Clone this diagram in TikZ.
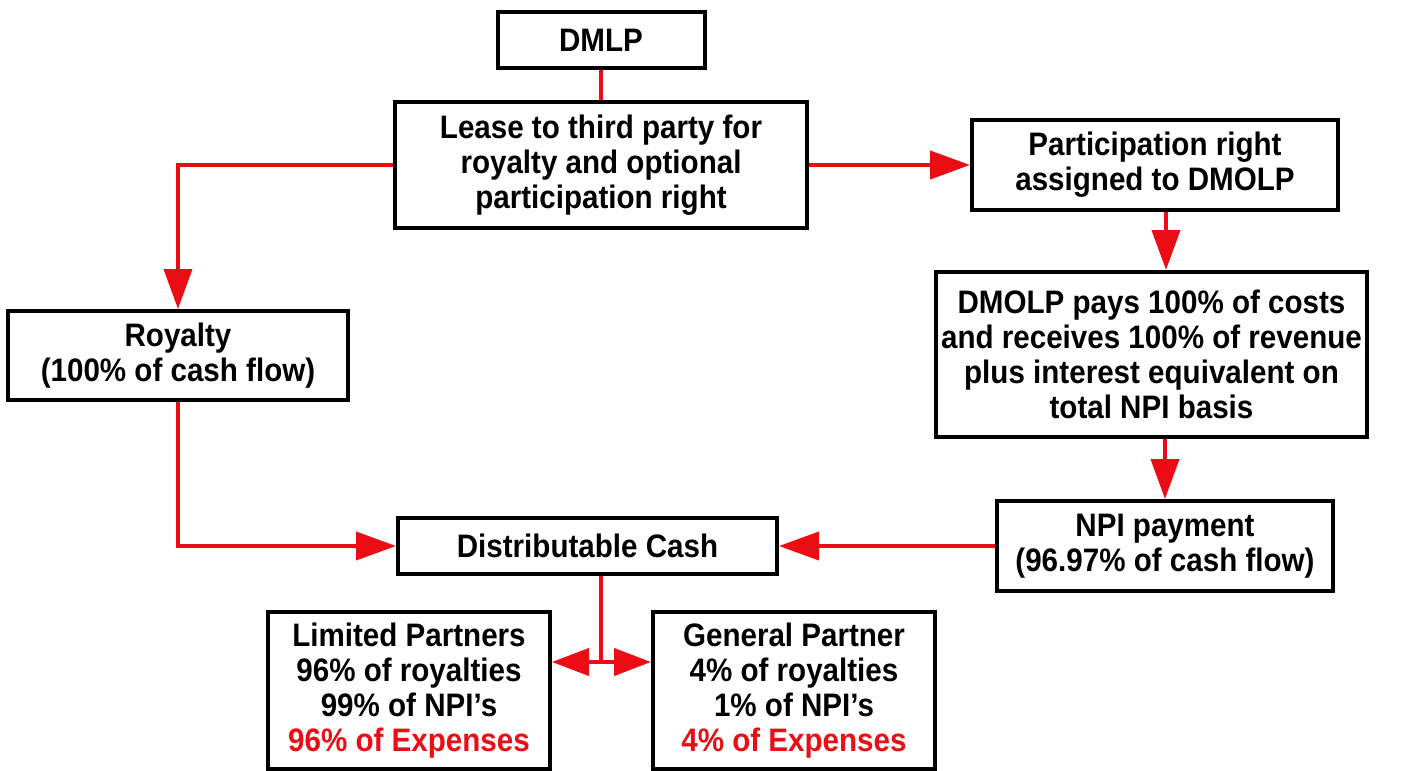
\documentclass[tikz,border=0pt]{standalone}
\usepackage{fontspec}
\setmainfont{Liberation Sans}[FakeStretch=0.91]
\usetikzlibrary{arrows.meta}
\definecolor{flowred}{RGB}{236,12,20}
\begin{document}
\begin{tikzpicture}[x=1pt,y=-1pt,
  box/.style={draw=black,line width=4pt,fill=white,align=center,
    font=\fontsize{32.5}{35}\selectfont\bfseries,inner sep=0pt},
  flow/.style={draw=flowred,line width=4pt},
  arr/.style={flow,-{Triangle[length=40pt,width=28pt]}},
  sarr/.style={flow,-{Triangle[length=37pt,width=27pt]}}]
\useasboundingbox (0,0) rectangle (1406,771);
\fill[white] (0,0) rectangle (1406,771);

\node[box,minimum width=207pt,minimum height=56pt] (dmlp) at (601,40) {DMLP};
\node[box,minimum width=412pt,minimum height=126pt] (lease) at (601,165)
  {Lease to third party for\\royalty and optional\\participation right};
\node[box,minimum width=366pt,minimum height=90pt] (part) at (1155,165)
  {Participation right\\assigned to DMOLP};
\node[box,minimum width=431pt,minimum height=165pt] (dmolp) at (1151.5,354.5)
  {DMOLP pays 100\% of costs\\and receives 100\% of revenue\\plus interest equivalent on\\total NPI basis};
\node[box,minimum width=336pt,minimum height=90pt] (npi) at (1165,546)
  {NPI payment\\(96.97\% of cash flow)};
\node[box,minimum width=379pt,minimum height=56pt] (dist) at (587.5,546)
  {Distributable Cash};
\node[box,minimum width=340pt,minimum height=89pt] (roy) at (178,355.5)
  {Royalty\\(100\% of cash flow)};
\node[box,minimum width=282pt,minimum height=157pt] (lp) at (409,690.5)
  {Limited Partners\\96\% of royalties\\99\% of NPI’s\\{\color{flowred}96\% of Expenses}};
\node[box,minimum width=282pt,minimum height=157pt] (gp) at (794,690.5)
  {General Partner\\4\% of royalties\\1\% of NPI’s\\{\color{flowred}4\% of Expenses}};

\coordinate (split) at (601,662);

\draw[flow] (dmlp) -- (lease);
\draw[arr] (lease.west) -| (roy.north);
\draw[arr] (lease.east) -- (part.west);
\draw[arr] ([xshift=11pt]part.south) -- ([xshift=11pt]part.south |- dmolp.north);
\draw[arr] (dmolp.south -| npi.north) -- (npi.north);
\draw[arr] (npi.west) -- (dist.east);
\draw[arr] (roy.south) |- (dist.west);
\draw[flow] (split |- dist.south) -- (split);
\draw[sarr] (split) -- (lp.east |- split);
\draw[sarr] (split) -- (gp.west |- split);
\end{tikzpicture}
\end{document}
